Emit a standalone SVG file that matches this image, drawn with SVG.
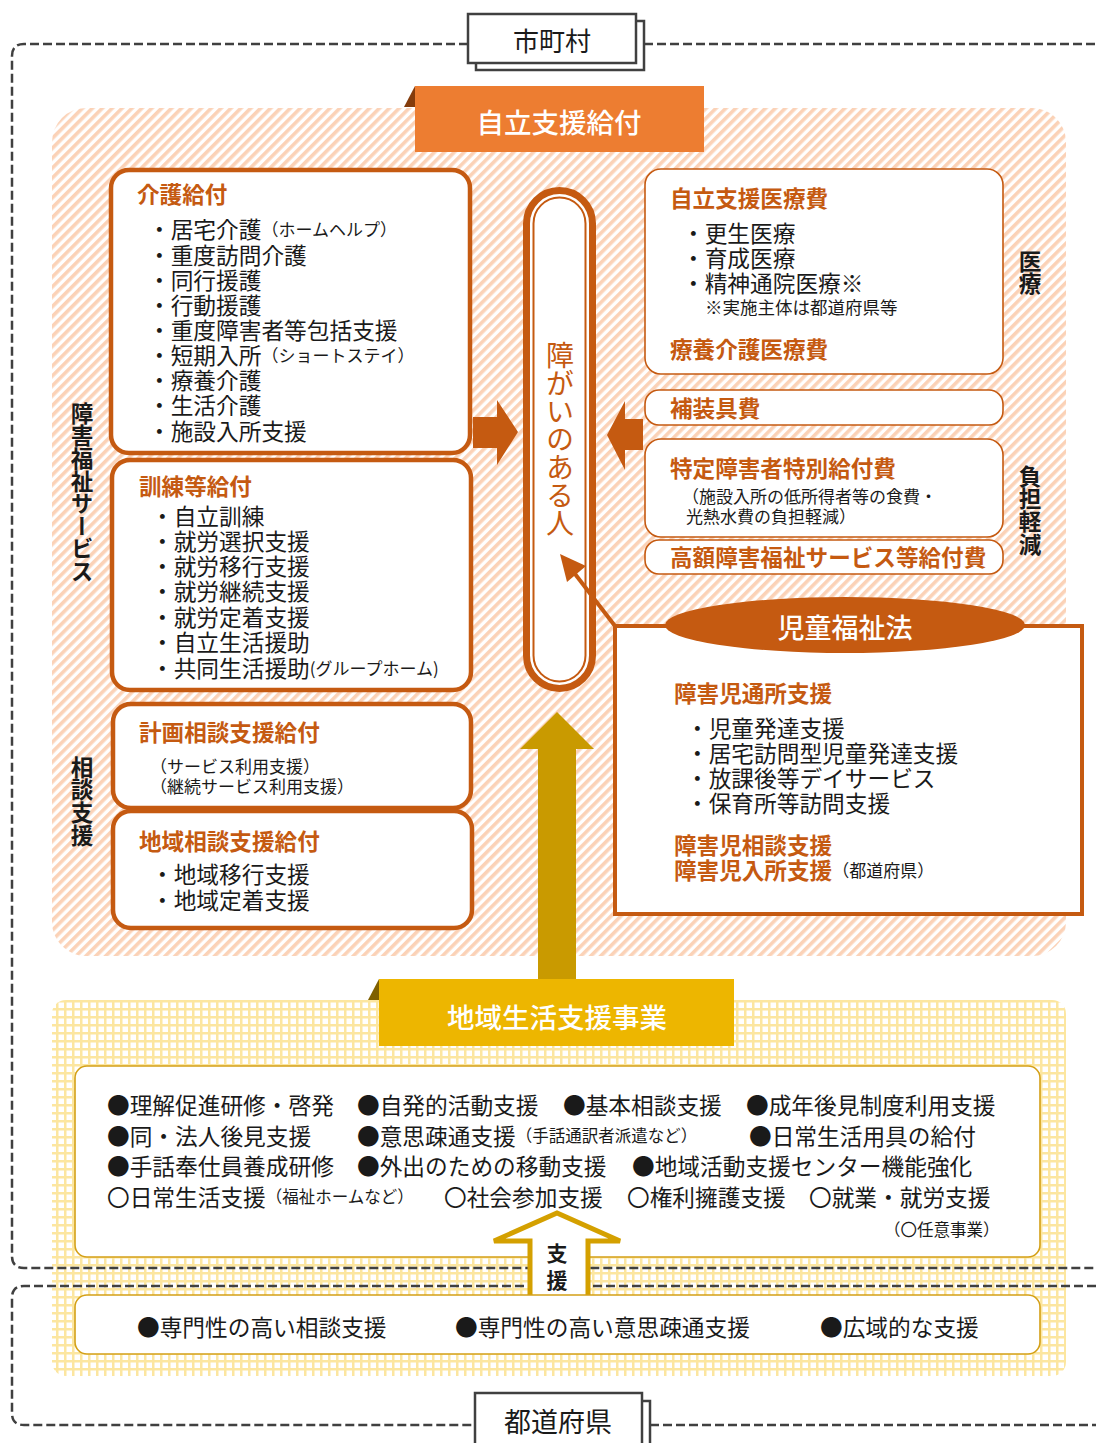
<svg xmlns="http://www.w3.org/2000/svg" width="1096" height="1443" viewBox="0 0 1096 1443">
<defs>
<pattern id="hatch" width="7" height="7" patternUnits="userSpaceOnUse" patternTransform="rotate(45)">
<rect width="7" height="7" fill="#ffffff"/>
<rect width="3.6" height="7" fill="#fbd2b7"/>
</pattern>
<pattern id="grid" width="8" height="8" patternUnits="userSpaceOnUse">
<rect width="8" height="8" fill="#fce6a0"/>
<rect x="2.5" y="2.5" width="5.5" height="5.5" fill="#ffffff"/>
</pattern>
<style>
text{font-family:"Noto Sans CJK JP","Noto Sans",sans-serif;dominant-baseline:central}
.it{font-size:22.7px;fill:#1a1a1a}
.ti{font-size:22.6px;fill:#c55a11;font-weight:bold}
.sm{font-size:17px}
.vt{font-size:22.6px;fill:#1a1a1a;font-weight:bold;writing-mode:vertical-rl}
.hd{font-size:27.5px;fill:#ffffff;font-weight:500}
.dash{fill:none;stroke:#404040;stroke-width:2.5;stroke-dasharray:9 4}
.lb{fill:#ffffff;stroke:#c55a11;stroke-width:4.5}
.rb{fill:#ffffff;stroke:#c55a11;stroke-width:1.6}
.yb{fill:#ffffff;stroke:#d4a017;stroke-width:1.6}
.lab{fill:#ffffff;stroke:#404040;stroke-width:2.5}
.bt{font-size:22.7px;fill:#1a1a1a}
</style>
</defs>

<!-- backgrounds -->
<g id="bg-jiritsu">
<rect x="52" y="108" width="1014" height="848" rx="34" fill="url(#hatch)"/>
</g>
<g id="bg-chiiki">
<rect x="52" y="1000" width="1014" height="376" rx="14" fill="url(#grid)"/>
</g>

<!-- frames -->
<g id="frame-shichoson">
<path class="dash" d="M468 44 H24 Q12 44 12 56 V1256 Q12 1268 24 1268 H1096"/>
<path class="dash" d="M644 44 H1096"/>
<rect class="lab" x="476" y="21" width="168" height="49"/>
<rect class="lab" x="468" y="14" width="168" height="49"/>
<text x="552" y="39" text-anchor="middle" style="font-size:26px;fill:#1a1a1a">市町村</text>
</g>
<g id="frame-todofuken">
<path class="dash" d="M1096 1286 H24 Q12 1286 12 1298 V1413 Q12 1425 24 1425 H475"/>
<path class="dash" d="M650 1425 H1096"/>
<rect class="lab" x="483" y="1401" width="167" height="50"/>
<rect class="lab" x="475" y="1393" width="167" height="55"/>
<text x="558" y="1420" text-anchor="middle" style="font-size:27px;fill:#1a1a1a">都道府県</text>
</g>

<!-- header -->
<g id="hdr-jiritsu">
<polygon points="404,107 415,86 415,107" fill="#843c0c"/>
<rect x="415" y="86" width="289" height="66" fill="#ed7d31"/>
<text class="hd" x="559" y="121" text-anchor="middle">自立支援給付</text>
</g>

<!-- left column -->
<g id="kaigo">
<rect class="lb" x="111" y="170" width="359" height="283" rx="18"/>
<text class="ti" x="137" y="193">介護給付</text>
<text class="it" x="148" y="228">・居宅介護<tspan class="sm">（ホームヘルプ）</tspan></text>
<text class="it" x="148" y="254">・重度訪問介護</text>
<text class="it" x="148" y="279">・同行援護</text>
<text class="it" x="148" y="304">・行動援護</text>
<text class="it" x="148" y="329">・重度障害者等包括支援</text>
<text class="it" x="148" y="354">・短期入所<tspan class="sm">（ショートステイ）</tspan></text>
<text class="it" x="148" y="379">・療養介護</text>
<text class="it" x="148" y="404">・生活介護</text>
<text class="it" x="148" y="430">・施設入所支援</text>
</g>
<g id="kunren">
<rect class="lb" x="112" y="460" width="359" height="230" rx="18"/>
<text class="ti" x="139" y="485">訓練等給付</text>
<text class="it" x="151" y="515">・自立訓練</text>
<text class="it" x="151" y="540">・就労選択支援</text>
<text class="it" x="151" y="565">・就労移行支援</text>
<text class="it" x="151" y="590">・就労継続支援</text>
<text class="it" x="151" y="616">・就労定着支援</text>
<text class="it" x="151" y="641">・自立生活援助</text>
<text class="it" x="151" y="667">・共同生活援助<tspan class="sm">(グループホーム)</tspan></text>
</g>
<g id="keikaku">
<rect class="lb" x="113" y="704" width="358" height="104" rx="18"/>
<text class="ti" x="139" y="731">計画相談支援給付</text>
<text class="it sm" x="150" y="765">（サービス利用支援）</text>
<text class="it sm" x="150" y="785">（継続サービス利用支援）</text>
</g>
<g id="chiikisodan">
<rect class="lb" x="113" y="811" width="359" height="117" rx="18"/>
<text class="ti" x="139" y="840">地域相談支援給付</text>
<text class="it" x="151" y="873">・地域移行支援</text>
<text class="it" x="151" y="899">・地域定着支援</text>
</g>
<g id="lbl-left">
<text class="vt" x="82" y="402">障害福祉サービス</text>
<text class="vt" x="82" y="756">相談支援</text>
</g>

<!-- center person -->
<g id="person">
<rect x="526.5" y="190.5" width="66" height="498" rx="33" fill="#ffffff" stroke="#c55a11" stroke-width="7"/>
<rect x="533.5" y="197.5" width="52" height="484" rx="26" fill="#ffffff" stroke="#c55a11" stroke-width="2"/>
<text x="560" y="341" style="font-size:28px;fill:#c55a11;writing-mode:vertical-rl">障がいのある人</text>
</g>

<!-- connectors -->
<g id="connectors">
<polygon points="473,417 497,417 497,400 518,432 497,465 497,448 473,448" fill="#c55a11"/>
<polygon points="643,419 625,419 625,401 607,435 625,470 625,450 643,450" fill="#c55a11"/>
<line x1="615" y1="626" x2="572" y2="570" stroke="#c55a11" stroke-width="4"/>
<polygon points="560,554 586,566 567,582" fill="#c55a11"/>
<polygon points="557,712 594,749 576,749 576,985 538,985 538,749 520,749" fill="#c99a00"/>
</g>

<!-- right column -->
<g id="iryo">
<rect class="rb" x="645" y="169" width="358" height="205" rx="16"/>
<text class="ti" x="670" y="197">自立支援医療費</text>
<text class="it" x="682" y="232">・更生医療</text>
<text class="it" x="682" y="257">・育成医療</text>
<text class="it" x="682" y="282">・精神通院医療※</text>
<text class="it" x="705" y="306" style="font-size:17.5px">※実施主体は都道府県等</text>
<text class="ti" x="670" y="348">療養介護医療費</text>
</g>
<g id="hosogu">
<rect class="rb" x="645" y="390" width="358" height="35" rx="14"/>
<text class="ti" x="670" y="407">補装具費</text>
</g>
<g id="tokutei">
<rect class="rb" x="645" y="439" width="358" height="98" rx="16"/>
<text class="ti" x="670" y="467">特定障害者特別給付費</text>
<text class="it sm" x="682" y="495">（施設入所の低所得者等の食費・</text>
<text class="it sm" x="686" y="515">光熱水費の負担軽減）</text>
</g>
<g id="kogaku">
<rect class="rb" x="645" y="540" width="358" height="34" rx="14"/>
<text class="ti" x="670" y="556">高額障害福祉サービス等給付費</text>
</g>
<g id="lbl-right">
<text class="vt" x="1030" y="250">医療</text>
<text class="vt" x="1030" y="465">負担軽減</text>
</g>

<!-- child welfare -->
<g id="jido">
<rect x="615" y="626" width="467" height="288" fill="#ffffff" stroke="#c55a11" stroke-width="4"/>
<ellipse cx="845" cy="625" rx="180" ry="28" fill="#c55a11"/>
<text class="hd" x="845" y="626" text-anchor="middle" style="font-size:27px">児童福祉法</text>
<text class="ti" x="674" y="692">障害児通所支援</text>
<text class="it" x="686" y="727">・児童発達支援</text>
<text class="it" x="686" y="752">・居宅訪問型児童発達支援</text>
<text class="it" x="686" y="777">・放課後等デイサービス</text>
<text class="it" x="686" y="802">・保育所等訪問支援</text>
<text class="ti" x="674" y="844">障害児相談支援</text>
<text class="ti" x="674" y="869">障害児入所支援<tspan style="font-size:17px;fill:#1a1a1a;font-weight:normal">（都道府県）</tspan></text>
</g>

<!-- chiiki seikatsu -->
<g id="hdr-chiiki">
<polygon points="368,1000 379,979 379,1000" fill="#7f6000"/>
<rect x="379" y="979" width="355" height="67" fill="#edb600"/>
<text class="hd" x="557" y="1016" text-anchor="middle">地域生活支援事業</text>
</g>
<g id="chiiki-jigyo">
<rect class="yb" x="75" y="1066" width="965" height="191" rx="12"/>
<text class="bt" x="107" y="1104">●理解促進研修・啓発</text>
<text class="bt" x="357" y="1104">●自発的活動支援</text>
<text class="bt" x="563" y="1104">●基本相談支援</text>
<text class="bt" x="746" y="1104">●成年後見制度利用支援</text>
<text class="bt" x="107" y="1135">●同・法人後見支援</text>
<text class="bt" x="357" y="1135">●意思疎通支援<tspan style="font-size:16.5px">（手話通訳者派遣など）</tspan></text>
<text class="bt" x="749" y="1135">●日常生活用具の給付</text>
<text class="bt" x="107" y="1165">●手話奉仕員養成研修</text>
<text class="bt" x="357" y="1165">●外出のための移動支援</text>
<text class="bt" x="632" y="1165">●地域活動支援センター機能強化</text>
<text class="bt" x="107" y="1196">〇日常生活支援<tspan style="font-size:16.5px">（福祉ホームなど）</tspan></text>
<text class="bt" x="444" y="1196">〇社会参加支援</text>
<text class="bt" x="627" y="1196">〇権利擁護支援</text>
<text class="bt" x="809" y="1196">〇就業・就労支援</text>
<text class="bt" x="884" y="1229" style="font-size:16.5px">（〇任意事業）</text>
</g>

<!-- support arrow -->
<g id="shien-arrow">
<polygon points="557,1213 620,1241 588,1241 588,1297 530,1297 530,1241 494,1241" fill="#ffffff"/>
<polyline points="530,1297 530,1241 494,1241 557,1213 620,1241 588,1241 588,1297" fill="none" stroke="#d4a000" stroke-width="5" stroke-linejoin="miter"/>
<text x="557" y="1252" text-anchor="middle" style="font-size:21px;fill:#1a1a1a;font-weight:bold">支</text>
<text x="557" y="1279" text-anchor="middle" style="font-size:21px;fill:#1a1a1a;font-weight:bold">援</text>
</g>

<g id="todofuken-jigyo">
<rect class="yb" x="75" y="1295" width="965" height="59" rx="12"/>
<text class="bt" x="137" y="1326">●専門性の高い相談支援</text>
<text class="bt" x="455" y="1326">●専門性の高い意思疎通支援</text>
<text class="bt" x="820" y="1326">●広域的な支援</text>
</g>
</svg>
